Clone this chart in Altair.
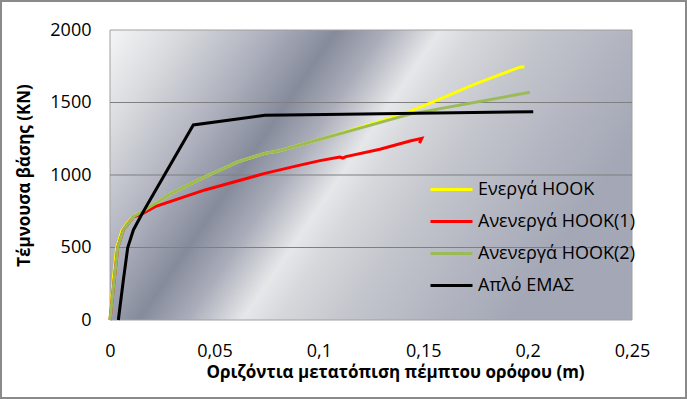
import altair as alt
import pandas as pd

series_names = ["Ενεργά HOOK", "Ανενεργά HOOK(1)", "Ανενεργά HOOK(2)", "Απλό ΕΜΑΣ"]
series_colors = ["#ffff00", "#ff0000", "#9bbb59", "#000000"]

yellow_x = [0, 0.0015, 0.0032, 0.0058, 0.0108, 0.0152, 0.0295, 0.0455, 0.0615, 0.0742, 0.0806,
            0.091, 0.103, 0.12, 0.140, 0.155, 0.1756, 0.1956, 0.1976, 0.1985]
yellow_y = [0, 276, 500, 621, 712, 745, 874, 988, 1092, 1149, 1165,
            1207, 1256, 1330, 1418, 1506, 1632, 1740, 1747, 1745]

red_x = [0, 0.002, 0.0037, 0.0064, 0.0112, 0.0152, 0.0216, 0.0455, 0.0742, 0.091, 0.1006,
         0.110, 0.1115, 0.113, 0.1293, 0.1437, 0.1493, 0.1482]
red_y = [0, 276, 500, 621, 712, 730, 782, 897, 1011, 1068, 1099,
         1124, 1117, 1127, 1178, 1234, 1253, 1220]

green_x = [0, 0.002, 0.0037, 0.0064, 0.0112, 0.0152, 0.0295, 0.0455, 0.0615, 0.0742, 0.0806,
           0.091, 0.103, 0.1437, 0.2011]
green_y = [0, 276, 500, 621, 712, 745, 874, 988, 1092, 1149, 1165,
           1207, 1256, 1420, 1570]

black_x = [0.004, 0.0064, 0.0085, 0.0112, 0.0155, 0.0399, 0.0742, 0.103, 0.2027]
black_y = [0, 276, 500, 621, 736, 1345, 1412, 1418, 1437]

grid_values = [500, 1000, 1500]
x_ticks = [0, 0.05, 0.1, 0.15, 0.2, 0.25]
y_ticks = [0, 500, 1000, 1500, 2000]

W, H = 522, 290
FONT = "Open Sans"

def frame(name, xs, ys):
    return pd.DataFrame({"x": xs, "y": ys, "series": name, "i": list(range(len(xs)))})

all_series = [
    frame(series_names[0], yellow_x, yellow_y),
    frame(series_names[1], red_x, red_y),
    frame(series_names[2], green_x, green_y),
    frame(series_names[3], black_x, black_y),
]

x_scale = alt.Scale(domain=[0, 0.25], nice=False, zero=False)
y_scale = alt.Scale(domain=[0, 2000], nice=False)
color_scale = alt.Scale(domain=series_names, range=series_colors)

bg = alt.Chart(pd.DataFrame({"a": [0]})).mark_rect(
    fill=alt.Gradient(
        gradient="linear", x1=0, y1=0, x2=1, y2=0.38,
        stops=[
            alt.GradientStop(offset=0.0, color="#f5f5f6"),
            alt.GradientStop(offset=0.12, color="#d8dadd"),
            alt.GradientStop(offset=0.26, color="#b0b3bf"),
            alt.GradientStop(offset=0.38, color="#868b9c"),
            alt.GradientStop(offset=0.46, color="#aaadb9"),
            alt.GradientStop(offset=0.553, color="#e6e7e9"),
            alt.GradientStop(offset=0.61, color="#d6d8dc"),
            alt.GradientStop(offset=0.72, color="#c4c6cd"),
            alt.GradientStop(offset=0.86, color="#b3b6c1"),
            alt.GradientStop(offset=1.0, color="#a4a8b6"),
        ],
    ),
    stroke="#a0a0a0", strokeWidth=1,
).encode(x=alt.value(0), x2=alt.value(W), y=alt.value(0), y2=alt.value(H))

border = alt.Chart(pd.DataFrame({"a": [0]})).mark_rect(
    filled=False, stroke="#8a8a8a", strokeWidth=2, clip=False
).encode(x=alt.value(-109), x2=alt.value(W + 54), y=alt.value(-29), y2=alt.value(H + 78))

grid = alt.Chart(pd.DataFrame({"g": grid_values})).mark_rule(
    color="#7f7f7f", strokeWidth=1
).encode(y=alt.Y("g:Q", scale=y_scale))

lines = []
for df in all_series:
    lines.append(
        alt.Chart(df).mark_line(strokeWidth=3).encode(
            x=alt.X("x:Q", scale=x_scale,
                    axis=alt.Axis(values=x_ticks, format="~g", labelFlush=False,
                                  labelExpr="replace(datum.label, '.', ',')",
                                  title="Οριζόντια μετατόπιση πέμπτου ορόφου (m)",
                                  titleX=285, titleAlign="center")),
            y=alt.Y("y:Q", scale=y_scale,
                    axis=alt.Axis(values=y_ticks, format="d", labelFlush=False,
                                  title="Τέμνουσα βάσης (KN)")),
            color=alt.Color("series:N", scale=color_scale,
                            legend=alt.Legend(title=None, orient="none",
                                              legendX=319, legendY=137)),
            order="i:Q",
        )
    )

chart = alt.layer(bg, grid, *lines, border).properties(
    width=W, height=H,
    autosize=alt.AutoSizeParams(type="none"),
    padding={"left": 110, "top": 30, "right": 55, "bottom": 79},
    background="white",
).configure_view(stroke=None).configure_axis(
    grid=False, domain=False, ticks=False,
    labelFont=FONT, labelFontSize=18, labelColor="#000000",
    titleFont=FONT, titleFontSize=17, titleFontWeight="bold", titleColor="#000000",
).configure_axisX(
    labelPadding=22, titlePadding=4,
).configure_axisY(
    labelPadding=19, titlePadding=16,
).configure_legend(
    symbolType="stroke", symbolStrokeWidth=3, symbolSize=1764,
    labelFont=FONT, labelFontSize=18, labelColor="#000000", labelLimit=300,
    labelOffset=4, rowPadding=0, padding=0,
)

chart.save("out.html", embed_options={"renderer": "svg", "actions": False})
